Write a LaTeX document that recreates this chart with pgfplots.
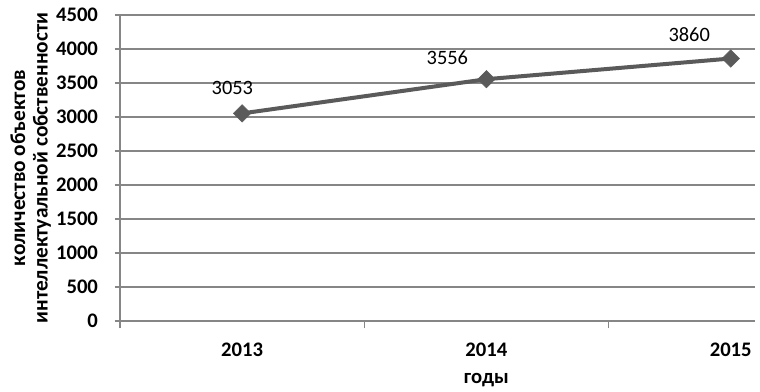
\documentclass[border=0pt]{standalone}
\usepackage{fontspec}
\setmainfont{Carlito}
\usepackage{pgfplots}
\pgfplotsset{compat=1.18}
\definecolor{gridc}{HTML}{868686}
\definecolor{linec}{HTML}{5A5A5A}
\begin{document}
\begin{tikzpicture}
\begin{axis}[
  scale only axis, width=476pt, height=229.5pt,
  anchor=south west, at={(0,0)},
  xmin=-0.5, xmax=2.098, ymin=0, ymax=4500,
  ytick={0,500,...,4500},
  xtick={0,1,2}, xticklabels={2013,2014,2015},
  minor xtick={-0.5,0.5,1.5},
  axis x line*=bottom, axis y line*=left,
  axis line style={gridc, line width=0.8pt, -},
  ymajorgrids, grid style={gridc, line width=0.8pt},
  tick align=outside,
  major x tick style={draw=none},
  minor tick length=5.5pt, major tick length=4pt,
  tick style={gridc, line width=0.8pt},
  every tick label/.append style={font=\fontsize{15.5}{15.5}\selectfont\bfseries},
  /pgf/number format/assume math mode=true,
  /pgf/number format/1000 sep={},
  yticklabel style={xshift=-9pt},
  xticklabel style={yshift=-9pt},
  clip=false,
]
\addplot[linec, line width=3pt, mark=square*, mark size=4.6pt, mark options={rotate=45, fill=linec, draw=linec, line width=0.4pt}]
  coordinates {(0,3053) (1,3556) (2,3860)};
\node[font=\fontsize{15.3}{15}\selectfont] at (axis cs:-0.04,3426) {3053};
\node[font=\fontsize{15.3}{15}\selectfont] at (axis cs:0.84,3868) {3556};
\node[font=\fontsize{15.3}{15}\selectfont] at (axis cs:1.83,4215) {3860};
\node[font=\fontsize{15.5}{15.5}\selectfont\bfseries] at (axis cs:1,0) [yshift=-44pt] {годы};
\node[rotate=90, align=center, font=\fontsize{16}{17}\selectfont\bfseries] at ([xshift=-67pt]rel axis cs:0,0.5) {количество объектов\\интеллектуальной собственности};
\end{axis}
\pgfresetboundingbox
\path (-90pt,-53.25pt) rectangle (480pt,240.75pt);
\end{tikzpicture}
\end{document}
